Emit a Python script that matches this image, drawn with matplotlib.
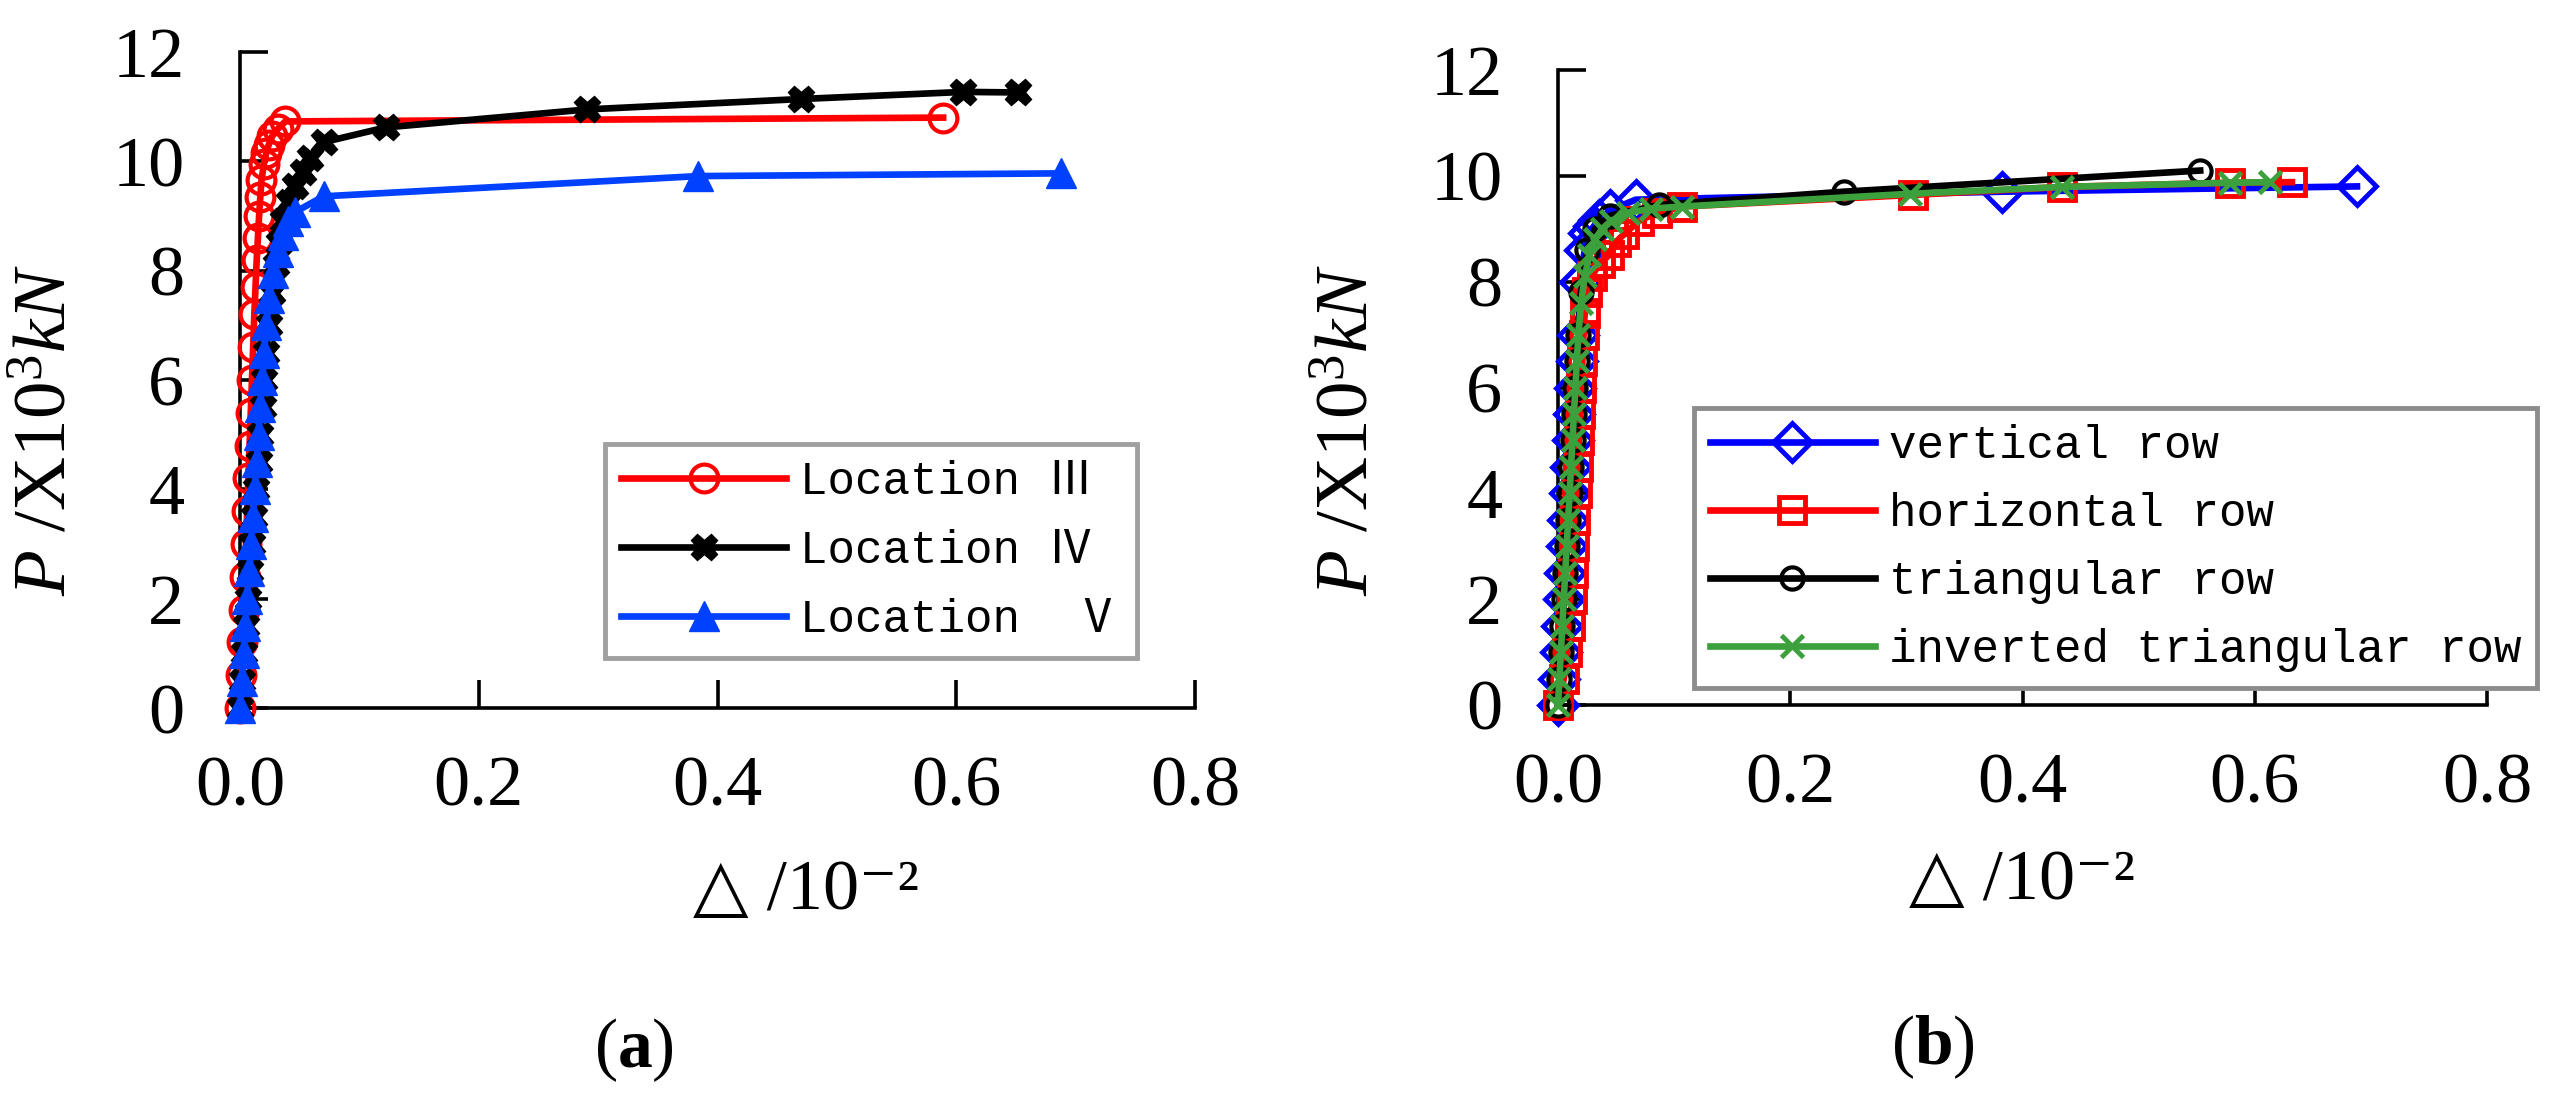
import matplotlib
matplotlib.use('Agg')
import matplotlib.pyplot as plt

plt.rcParams['font.family'] = ['Liberation Serif', 'DejaVu Sans']
plt.rcParams['mathtext.fontset'] = 'custom'
plt.rcParams['mathtext.rm'] = 'Liberation Serif'
plt.rcParams['mathtext.it'] = 'Liberation Serif:italic'
plt.rcParams['mathtext.bf'] = 'Liberation Serif:bold'

# ---------------- data ----------------
x_ticks = [0.0, 0.2, 0.4, 0.6, 0.8]
x_tick_labels = ['0.0', '0.2', '0.4', '0.6', '0.8']
y_ticks = [0, 2, 4, 6, 8, 10, 12]

# panel (a)
loc3_label = 'Location Ⅲ'
loc3_x = [0, 0.001, 0.002, 0.003, 0.004, 0.005, 0.006, 0.007, 0.008, 0.009, 0.010, 0.011,
          0.012, 0.013, 0.014, 0.015, 0.016, 0.017, 0.018, 0.020, 0.022, 0.024, 0.027,
          0.032, 0.038, 0.589]
loc3_y = [0, 0.6, 1.2, 1.8, 2.4, 3.0, 3.6, 4.2, 4.8, 5.4, 6.0, 6.6, 7.2, 7.7, 8.2, 8.6,
          9.0, 9.35, 9.65, 9.95, 10.15, 10.3, 10.46, 10.6, 10.73, 10.8]

loc4_label = 'Location Ⅳ'
loc4_x = [0, 0.0017, 0.0034, 0.005, 0.0067, 0.0085, 0.010, 0.012, 0.0137, 0.0155, 0.017,
          0.019, 0.0205, 0.022, 0.024, 0.027, 0.030, 0.033, 0.036, 0.041, 0.046, 0.053,
          0.059, 0.070, 0.122, 0.291, 0.470, 0.606, 0.652]
loc4_y = [0, 0.5, 1.0, 1.5, 2.0, 2.5, 3.0, 3.5, 4.0, 4.5, 5.0, 5.5, 6.0, 6.5, 7.0, 7.6,
          8.1, 8.5, 8.9, 9.25, 9.54, 9.8, 10.07, 10.35, 10.62, 10.95, 11.14, 11.27, 11.26]

loc5_label = 'Location  Ⅴ'
loc5_x = [0, 0.0015, 0.003, 0.0045, 0.006, 0.0078, 0.0094, 0.011, 0.0125, 0.014, 0.0155,
          0.017, 0.0187, 0.0203, 0.022, 0.0245, 0.028, 0.032, 0.036, 0.040, 0.046, 0.070,
          0.384, 0.688]
loc5_y = [0, 0.5, 1.0, 1.5, 2.0, 2.5, 3.0, 3.5, 4.0, 4.5, 5.0, 5.5, 6.0, 6.5, 7.0, 7.5,
          7.95, 8.35, 8.65, 8.9, 9.07, 9.36, 9.73, 9.78]

# panel (b)
vert_label = 'vertical row'
vert_x = [0, 0.0012, 0.0025, 0.0037, 0.005, 0.0062, 0.0075, 0.0087, 0.010, 0.0112, 0.0125,
          0.0137, 0.015, 0.0162, 0.0175, 0.019, 0.023, 0.027, 0.031, 0.035, 0.045, 0.067,
          0.382, 0.688]
vert_y = [0, 0.5, 1.0, 1.5, 2.0, 2.5, 3.0, 3.5, 4.0, 4.5, 5.0, 5.5, 6.0, 6.5, 7.0, 8.0,
          8.6, 8.92, 9.05, 9.17, 9.35, 9.55, 9.70, 9.80]

horiz_label = 'horizontal row'
horiz_x = [0, 0.005, 0.008, 0.010, 0.012, 0.013, 0.014, 0.015, 0.016, 0.017, 0.018, 0.019,
           0.020, 0.021, 0.022, 0.023, 0.025, 0.029, 0.036, 0.044, 0.050, 0.057, 0.070,
           0.085, 0.107, 0.306, 0.434, 0.579, 0.632]
horiz_y = [0, 0.5, 1.0, 1.5, 2.0, 2.5, 3.0, 3.5, 4.0, 4.5, 5.0, 5.5, 6.0, 6.5, 7.0, 7.4,
           7.8, 8.1, 8.35, 8.5, 8.75, 8.9, 9.15, 9.3, 9.42, 9.64, 9.79, 9.87, 9.88]

tri_label = 'triangular row'
tri_x = [0, 0.0012, 0.0025, 0.0037, 0.005, 0.0062, 0.0075, 0.0087, 0.010, 0.0112, 0.0125,
         0.0137, 0.015, 0.0162, 0.0175, 0.020, 0.025, 0.032, 0.045, 0.087, 0.246, 0.553]
tri_y = [0, 0.5, 1.0, 1.5, 2.0, 2.5, 3.0, 3.5, 4.0, 4.5, 5.0, 5.5, 6.0, 6.5, 7.0, 7.8,
         8.6, 9.0, 9.25, 9.45, 9.70, 10.10]

inv_label = 'inverted triangular row'
inv_x = [0, 0.0012, 0.0025, 0.0037, 0.005, 0.0062, 0.0075, 0.0087, 0.010, 0.0112, 0.0125,
         0.0137, 0.015, 0.0162, 0.0175, 0.020, 0.023, 0.027, 0.032, 0.038, 0.046, 0.060,
         0.080, 0.107, 0.303, 0.434, 0.579, 0.613]
inv_y = [0, 0.5, 1.0, 1.5, 2.0, 2.5, 3.0, 3.5, 4.0, 4.5, 5.0, 5.5, 6.0, 6.5, 7.0, 7.6,
         8.1, 8.5, 8.8, 9.0, 9.15, 9.3, 9.38, 9.42, 9.66, 9.79, 9.87, 9.88]

# ---------------- figure ----------------
W, H = 2565, 1095
fig = plt.figure(figsize=(W / 100, H / 100), dpi=100)
axA = fig.add_axes([240 / W, 1 - 708 / H, 955 / W, 656 / H])
axB = fig.add_axes([1558 / W, 1 - 705 / H, 929 / W, 635 / H])


def style(ax):
    for s in ['top', 'right']:
        ax.spines[s].set_visible(False)
    for s in ['left', 'bottom']:
        ax.spines[s].set_linewidth(2.6)
        ax.spines[s].set_color('black')
    ax.set_xlim(0, 0.8)
    ax.set_ylim(0, 12)
    ax.set_xticks(x_ticks)
    ax.set_xticklabels(x_tick_labels)
    ax.set_yticks(y_ticks)
    ax.tick_params(direction='in', length=20, width=2.6, labelsize=52, colors='black')
    ax.tick_params(axis='x', pad=34)
    ax.tick_params(axis='y', pad=40)


style(axA)
style(axB)

lw = 4.8
axA.plot(loc3_x, loc3_y, color='#ff0000', lw=lw, marker='o', ms=20, mfc='none',
         mew=3, mec='#ff0000', label=loc3_label, clip_on=False, zorder=3)
axA.plot(loc4_x, loc4_y, color='black', lw=lw, marker='X', ms=19, mfc='black',
         mec='black', label=loc4_label, clip_on=False, zorder=3)
axA.plot(loc5_x, loc5_y, color='#0040ff', lw=lw, marker='^', ms=22, mfc='#0040ff',
         mec='#0040ff', label=loc5_label, clip_on=False, zorder=3)

axB.plot(vert_x, vert_y, color='#0000ff', lw=lw, marker='D', ms=19, mfc='none',
         mew=3.5, mec='#0000ff', label=vert_label, clip_on=False, zorder=3)
axB.plot(horiz_x, horiz_y, color='#ff0000', lw=lw, marker='s', ms=19, mfc='none',
         mew=3.5, mec='#ff0000', label=horiz_label, clip_on=False, zorder=3)
axB.plot(tri_x, tri_y, color='black', lw=lw, marker='o', ms=16, mfc='none',
         mew=3, mec='black', label=tri_label, clip_on=False, zorder=3)
axB.plot(inv_x, inv_y, color='#3ca03c', lw=lw, marker='x', ms=16, mew=3.5,
         mec='#3ca03c', label=inv_label, clip_on=False, zorder=3)

legfont = {'family': ['Liberation Mono', 'Noto Sans CJK SC', 'DejaVu Sans Mono'], 'size': 33}
legA = axA.legend(loc='lower right', bbox_to_anchor=(0.939, 0.076), borderaxespad=0,
                  prop=legfont, handlelength=3.6, handletextpad=0.3, labelspacing=0.55,
                  borderpad=0.35, fancybox=False, edgecolor='#a0a0a0', framealpha=1,
                  numpoints=1)
legA.get_frame().set_linewidth(3.5)

legB = axB.legend(loc='lower right', bbox_to_anchor=(1.054, 0.027), borderaxespad=0,
                  prop=legfont, handlelength=3.6, handletextpad=0.3, labelspacing=0.52,
                  borderpad=0.35, fancybox=False, edgecolor='#8c8c8c', framealpha=1,
                  numpoints=1)
legB.get_frame().set_linewidth(3.5)
legB.set_zorder(2)

# axis titles
ylab = r'$P$ /X10$^{3}$$kN$'
fig.text(48 / W, 1 - 430 / H, ylab, rotation=90, ha='center', va='center', fontsize=54)
fig.text(1350 / W, 1 - 430 / H, ylab, rotation=90, ha='center', va='center', fontsize=54)

xlab = '△ /10⁻²'
fig.text(806 / W, 1 - 891 / H, xlab, ha='center', va='center', fontsize=52)
fig.text(2022 / W, 1 - 882 / H, xlab, ha='center', va='center', fontsize=52)

fig.text(634 / W, 1 - 1050 / H, r'($\mathbf{a}$)', ha='center', va='center', fontsize=50)
fig.text(1933 / W, 1 - 1047 / H, r'($\mathbf{b}$)', ha='center', va='center', fontsize=50)

fig.savefig('out.png', dpi=100, facecolor='white')
